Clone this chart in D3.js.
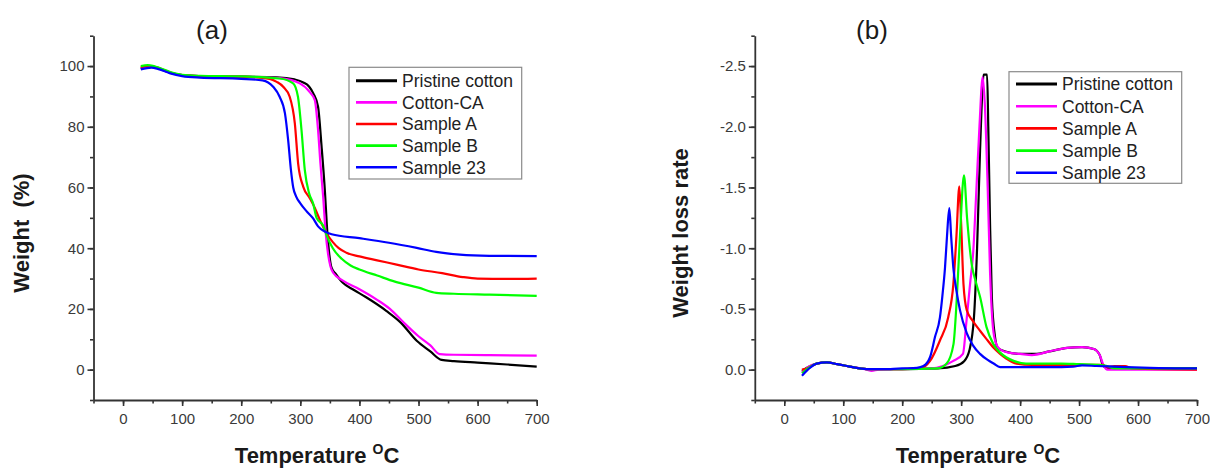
<!DOCTYPE html>
<html><head><meta charset="utf-8">
<script src="https://cdn.jsdelivr.net/npm/d3@7"></script>
<style>
html,body{margin:0;padding:0;background:#fff;}
svg{display:block;font-family:"Liberation Sans",Arial,sans-serif;}
</style></head>
<body>
<svg id="chart" width="1210" height="470"></svg>
<script>
// ---------- DATA ----------
const seriesNames = ["Pristine cotton", "Cotton-CA", "Sample A", "Sample B", "Sample 23"];
const seriesColors = ["#000000", "#ff00ff", "#ff0000", "#00ff00", "#0000ff"];

// Panel (a): TGA, [temperature °C, weight %]
const tgaPristine = [[30,99.2],[45,99.8],[60,99.2],[80,97.8],[100,97.0],[130,96.7],[200,96.5],[260,96.3],[290,95.6],[305,94.6],[315,93.2],[322,91.0],[330,86.6],[336,73.4],[341.5,59.1],[345.5,45.8],[349,38],[353,33.5],[360,31.5],[372,28.6],[390,26.3],[410,24],[446,19.3],[470,15.5],[497,9.5],[520,6],[539,3.2],[560,2.8],[600,2.3],[650,1.7],[700,1.0]];
const tgaCottonCA = [[30,99.2],[45,99.8],[60,99.2],[80,97.8],[100,97.0],[130,96.7],[200,96.5],[265,96.0],[299,94.3],[316,91.4],[324.5,88.8],[330,78.9],[334,67.9],[338.7,56.8],[342.6,45.8],[347,38],[351,34],[355.6,31.9],[372,29.3],[400,26.5],[430,23],[451.6,20],[475,15.5],[500,11],[520,8],[536,5.1],[560,4.9],[620,4.8],[700,4.6]];
const tgaSampleA = [[30,99.6],[45,100.1],[60,99.4],[80,97.9],[100,97.0],[130,96.7],[200,96.5],[248,95.8],[260,94.8],[271,93.2],[282,89.9],[290.7,81.1],[296.3,67.9],[305,60.2],[316,56.5],[322,54.3],[335,48.5],[344,45],[355,42],[365,40],[378,38.5],[400,37.3],[430,36],[463,34.6],[500,33],[540,31.8],[575,30.5],[600,30.0],[650,29.9],[700,30.0]];
const tgaSampleB = [[30,100],[42,100.3],[60,99.5],[80,98],[100,97.1],[130,96.8],[200,96.6],[265,95.9],[287.8,94.3],[296,89.9],[302,78.9],[307.6,65.7],[315,58],[321.7,54.7],[327.5,50],[338.7,47.4],[345,44],[355,40],[370,36.5],[385,34.3],[400,33],[430,31],[460,29],[500,27],[530,25.3],[560,25],[620,24.7],[700,24.3]];
const tgaSample23 = [[30,98.9],[48,99.5],[60,99],[80,97.6],[100,96.7],[130,96.2],[200,95.8],[236,95.3],[254,93.2],[265,89.9],[274,84.4],[279.4,75.6],[284,66],[288,60],[293,57],[300,54.8],[310,52.3],[321.7,49.8],[330,47.2],[341.5,45.5],[353,44.6],[400,43.3],[450,41.8],[497,40.1],[530,38.8],[570,37.9],[620,37.5],[700,37.4]];

// Panel (b): DTG, [temperature °C, weight loss rate]
const dtgPristine = [[30,0.01],[40,-0.02],[55,-0.05],[72,-0.06],[90,-0.045],[111,-0.025],[140,-0.005],[200,-0.005],[260,-0.01],[290,-0.03],[305,-0.07],[314,-0.16],[321.7,-0.43],[327,-1.0],[332,-1.8],[336,-2.3],[338,-2.43],[344,-2.43],[346,-2.0],[349,-1.2],[352,-0.6],[357.4,-0.27],[362,-0.18],[375,-0.15],[400,-0.13],[425,-0.13],[450,-0.15],[480,-0.18],[505,-0.185],[525,-0.17],[535,-0.12],[541,-0.03],[550,-0.015],[600,-0.012],[700,-0.01]];
const dtgCottonCA = [[30,0.02],[40,-0.02],[55,-0.05],[72,-0.06],[90,-0.045],[111,-0.025],[140,0.0],[148,0.01],[160,0.0],[200,-0.005],[250,-0.01],[286,-0.07],[303,-0.13],[309,-0.4],[315,-0.7],[320.6,-0.98],[326,-1.5],[331,-2.0],[336.5,-2.41],[340,-2.2],[345,-1.5],[349,-0.8],[353,-0.4],[357,-0.25],[365,-0.17],[380,-0.14],[400,-0.13],[420,-0.12],[450,-0.15],[480,-0.18],[505,-0.185],[525,-0.17],[535,-0.12],[542,-0.03],[548,0.0],[600,0.0],[700,0.0]];
const dtgSampleA = [[30,0.0],[38,-0.01],[55,-0.05],[72,-0.06],[90,-0.045],[111,-0.025],[140,-0.005],[200,-0.005],[230,-0.01],[247,-0.07],[264,-0.24],[278,-0.43],[286.7,-0.70],[292,-1.1],[296.9,-1.51],[300,-1.2],[304,-0.70],[309.5,-0.49],[320,-0.4],[332,-0.32],[345,-0.24],[355,-0.18],[366,-0.13],[377,-0.09],[394,-0.05],[420,-0.04],[500,-0.04],[540,-0.04],[548,-0.02],[560,-0.03],[578,-0.03],[590,-0.01],[700,0.0]];
const dtgSampleB = [[30,0.03],[40,-0.01],[55,-0.05],[72,-0.06],[90,-0.045],[111,-0.025],[140,-0.005],[200,-0.005],[260,-0.01],[275.4,-0.05],[287,-0.21],[292.4,-0.57],[298,-1.1],[304.8,-1.60],[310,-1.25],[317.8,-0.87],[325,-0.72],[332,-0.6],[343,-0.35],[354.6,-0.21],[366,-0.14],[377,-0.10],[390,-0.07],[410,-0.05],[470,-0.05],[500,-0.045],[530,-0.04],[548,-0.03],[560,-0.01],[600,-0.01],[700,-0.01]];
const dtgSample23 = [[30,0.05],[40,0.0],[55,-0.05],[72,-0.06],[90,-0.045],[111,-0.025],[140,-0.005],[180,-0.005],[200,-0.01],[225,-0.015],[236,-0.03],[247,-0.10],[255.7,-0.27],[264,-0.43],[268,-0.6],[272.6,-0.84],[276,-1.1],[279.9,-1.33],[283,-1.1],[286.7,-0.84],[292,-0.65],[298,-0.49],[309.5,-0.30],[320,-0.2],[332,-0.13],[345,-0.08],[355,-0.05],[366,-0.02],[450,-0.02],[490,-0.025],[505,-0.035],[530,-0.03],[560,-0.025],[620,-0.015],[700,-0.01]];

// Ticks
const xTicks = [0,100,200,300,400,500,600,700];
const xTickLabels = ["0","100","200","300","400","500","600","700"];
const xMinorTicks = [-50,0,50,100,150,200,250,300,350,400,450,500,550,600,650,700];
const yTicksA = [0,20,40,60,80,100];
const yTickLabelsA = ["0","20","40","60","80","100"];
const yMinorTicksA = [-10,0,10,20,30,40,50,60,70,80,90,100,110];
const yTicksB = [0,-0.5,-1.0,-1.5,-2.0,-2.5];
const yTickLabelsB = ["0.0","-0.5","-1.0","-1.5","-2.0","-2.5"];
const yMinorTicksB = [0.25,0,-0.25,-0.5,-0.75,-1.0,-1.25,-1.5,-1.75,-2.0,-2.25,-2.5,-2.75];

// ---------- DRAW ----------
const svg = d3.select("#chart");
const AX = "#333";

function panel(cfg) {
  const x = d3.scaleLinear().domain([-50, 700]).range([cfg.x0, cfg.x1]);
  const y = d3.scaleLinear().domain(cfg.yDomain).range([400, 35.7]);
  const g = svg.append("g");

  // minor ticks
  const xm = g.append("g").attr("transform", "translate(0,400)")
    .call(d3.axisBottom(x).tickValues(xMinorTicks).tickSize(3.5).tickFormat(""));
  xm.select(".domain").remove();
  const ym = g.append("g").attr("transform", `translate(${cfg.x0},0)`)
    .call(d3.axisLeft(y).tickValues(cfg.yMinor).tickSize(3.5).tickFormat(""));
  ym.select(".domain").remove();

  // major axes
  const xa = g.append("g").attr("transform", "translate(0,400)")
    .call(d3.axisBottom(x).tickValues(xTicks).tickFormat((d, i) => xTickLabels[i])
      .tickSize(6).tickSizeOuter(0).tickPadding(7));
  const ya = g.append("g").attr("transform", `translate(${cfg.x0},0)`)
    .call(d3.axisLeft(y).tickValues(cfg.yTicks).tickFormat((d, i) => cfg.yLabels[i])
      .tickSize(6).tickSizeOuter(0).tickPadding(3));
  [xa, ya, xm, ym].forEach(a => {
    a.selectAll("line").attr("stroke", AX).attr("stroke-width", 1.6);
    a.selectAll(".domain").attr("stroke", AX).attr("stroke-width", 1.8);
    a.selectAll("text").attr("fill", "#3a3a3a").style("font-size", "15px")
      .style("font-family", '"Liberation Sans",Arial,sans-serif');
  });

  // lines
  const line = d3.line().x(d => x(d[0])).y(d => y(d[1])).curve(d3.curveMonotoneX);
  cfg.data.forEach((s, i) => {
    g.append("path").datum(s).attr("d", line)
      .attr("fill", "none").attr("stroke", seriesColors[i])
      .attr("stroke-width", 2.2).attr("stroke-linejoin", "round");
  });

  // legend
  const L = cfg.legend;
  g.append("rect").attr("x", L.x).attr("y", L.y).attr("width", L.w).attr("height", L.h)
    .attr("fill", "#fff").attr("stroke", "#8a8a8a").attr("stroke-width", 1.2);
  seriesNames.forEach((n, i) => {
    const ry = L.row0 + i * L.dy;
    g.append("line").attr("x1", L.x + 7).attr("x2", L.x + 48).attr("y1", ry).attr("y2", ry)
      .attr("stroke", seriesColors[i]).attr("stroke-width", i === 0 ? 3 : 2.6);
    g.append("text").attr("x", L.x + 53).attr("y", ry).attr("dy", "0.36em")
      .attr("fill", "#222").style("font-size", "17.5px").text(n);
  });

  // title
  g.append("text").attr("x", cfg.titleX).attr("y", 39).attr("text-anchor", "middle")
    .attr("fill", "#1a1a1a").style("font-size", "26px").text(cfg.title);

  // y label
  g.append("text").attr("transform", `translate(${cfg.yLabX},233) rotate(-90)`)
    .attr("text-anchor", "middle").attr("fill", "#1a1a1a")
    .style("font-size", "22px").style("font-weight", "bold").style("white-space", "pre")
    .text(cfg.yLabel);

  // x label
  const xl = g.append("text").attr("x", (cfg.x0 + cfg.x1) / 2 + 2).attr("y", 463)
    .attr("text-anchor", "middle").attr("fill", "#1a1a1a")
    .style("font-size", "22px").style("font-weight", "bold");
  xl.append("tspan").text("Temperature ");
  xl.append("tspan").attr("dy", -9).style("font-size", "14px").text("O");
  xl.append("tspan").attr("dy", 9).text("C");
}

panel({
  x0: 93.5, x1: 536.7, yDomain: [-10, 110],
  yTicks: yTicksA, yLabels: yTickLabelsA, yMinor: yMinorTicksA,
  data: [tgaPristine, tgaCottonCA, tgaSampleA, tgaSampleB, tgaSample23],
  legend: {x: 349, y: 67.3, w: 172.7, h: 111.7, row0: 80.7, dy: 21.65},
  title: "(a)", titleX: 212, yLabel: "Weight  (%)", yLabX: 29
});
panel({
  x0: 754.8, x1: 1197, yDomain: [0.25, -2.75],
  yTicks: yTicksB, yLabels: yTickLabelsB, yMinor: yMinorTicksB,
  data: [dtgPristine, dtgCottonCA, dtgSampleA, dtgSampleB, dtgSample23],
  legend: {x: 1009, y: 71.7, w: 172.7, h: 111.6, row0: 84, dy: 22.2},
  title: "(b)", titleX: 872, yLabel: "Weight loss rate", yLabX: 688
});
</script>
</body></html>
